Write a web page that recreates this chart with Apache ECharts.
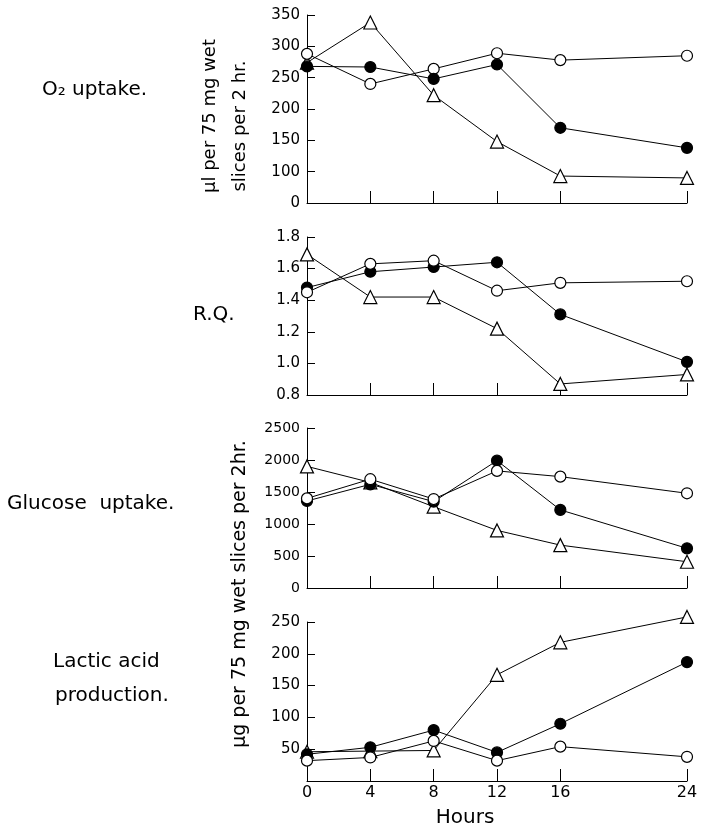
<!DOCTYPE html>
<html>
<head>
<meta charset="utf-8">
<script src="https://cdn.jsdelivr.net/npm/echarts@6/dist/echarts.min.js"></script>
<style>
  html, body { margin: 0; padding: 0; background: #fff; }
  #chart { width: 701px; height: 829px; }
</style>
</head>
<body>
<div id="chart"></div>
<script>
// hours after slicing
var hours = [0, 4, 8, 12, 16, 24];
var hourTicks = [4, 8, 12, 16, 24];

// O2 uptake (axis is broken: baseline labelled 0 sits where 50 would be)
var o2Open = [288, 240, 264, 289, 278, 285];
var o2Filled = [268, 267, 248, 271, 170, 138];
var o2Tri = [274, 338, 222, 148, 93, 90];
var o2TickValues = [50, 100, 150, 200, 250, 300, 350];
var o2TickLabels = ["0", "100", "150", "200", "250", "300", "350"];

// R.Q.
var rqOpen = [1.45, 1.63, 1.65, 1.46, 1.51, 1.52];
var rqFilled = [1.48, 1.58, 1.61, 1.64, 1.31, 1.01];
var rqTri = [1.69, 1.42, 1.42, 1.22, 0.87, 0.93];

// glucose uptake
var gluOpen = [1400, 1700, 1390, 1830, 1740, 1480];
var gluFilled = [1360, 1620, 1350, 1990, 1220, 620];
var gluTri = [1900, 1650, 1270, 900, 670, 410];

// lactic acid production
var lacOpen = [32, 37, 63, 32, 54, 38];
var lacFilled = [42, 53, 80, 45, 90, 187];
var lacTri = [46, 47, 48, 167, 218, 258];

var FONT = "DejaVu Sans";

function pairs(vals) {
  return hours.map(function (h, i) { return [h, vals[i]]; });
}

// one line series, marker style picked by kind
function makeSeries(idx, vals, kind) {
  return {
    type: "line",
    xAxisIndex: idx,
    yAxisIndex: idx,
    data: pairs(vals),
    clip: false, // last lactic triangle sits above the top tick
    lineStyle: { color: "#000", width: 1 },
    symbol: kind === "tri" ? "triangle" : "circle",
    symbolSize: kind === "tri" ? 13 : 11,
    itemStyle: {
      color: kind === "filled" ? "#000" : "#fff",
      borderColor: "#000",
      borderWidth: 1.2
    },
    emphasis: { disabled: true }
  };
}

var grids = [
  { left: 307, top: 15, width: 380, height: 188 },
  { left: 307, top: 237, width: 380, height: 158 },
  { left: 307, top: 428, width: 380, height: 160 },
  { left: 307, top: 622, width: 380, height: 159 }
];

var xAxes = grids.map(function (g, i) {
  return {
    gridIndex: i,
    type: "value",
    min: 0,
    max: 24,
    axisLine: { show: true, lineStyle: { color: "#000", width: 1 } },
    axisTick: {
      show: true,
      inside: true,
      length: 12,
      customValues: hourTicks,
      lineStyle: { color: "#000", width: 1 }
    },
    axisLabel: {
      show: i === 3,
      customValues: hours,
      color: "#000",
      fontFamily: FONT,
      fontSize: 16,
      margin: 4
    },
    splitLine: { show: false }
  };
});

function yAxis(i, min, max, interval, fmt, size) {
  return {
    gridIndex: i,
    type: "value",
    min: min,
    max: max,
    interval: interval,
    axisLine: { show: true, lineStyle: { color: "#000", width: 1 } },
    axisTick: { show: true, inside: true, length: 8, lineStyle: { color: "#000", width: 1 } },
    axisLabel: {
      color: "#000",
      fontFamily: FONT,
      fontSize: size,
      margin: 7,
      formatter: fmt
    },
    splitLine: { show: false }
  };
}

var yAxes = [
  yAxis(0, 50, 350, 50, function (v) {
    var k = o2TickValues.indexOf(v);
    return k >= 0 ? o2TickLabels[k] : "";
  }, 15),
  yAxis(1, 0.8, 1.8, 0.2, function (v) { return v.toFixed(1); }, 15),
  yAxis(2, 0, 2500, 500, function (v) { return String(v); }, 14),
  yAxis(3, 0, 250, 50, function (v) { return v === 0 ? "" : String(v); }, 15)
];

var series = [
  makeSeries(0, o2Tri, "tri"), makeSeries(0, o2Open, "open"), makeSeries(0, o2Filled, "filled"),
  makeSeries(1, rqTri, "tri"), makeSeries(1, rqFilled, "filled"), makeSeries(1, rqOpen, "open"),
  makeSeries(2, gluTri, "tri"), makeSeries(2, gluFilled, "filled"), makeSeries(2, gluOpen, "open"),
  makeSeries(3, lacTri, "tri"), makeSeries(3, lacFilled, "filled"), makeSeries(3, lacOpen, "open")
];

function label(text, x, y, size, align, rot) {
  return {
    type: "text",
    x: x,
    y: y,
    rotation: rot || 0,
    style: {
      text: text,
      fill: "#000",
      font: size + "px " + FONT,
      textAlign: align || "left",
      textVerticalAlign: "middle"
    }
  };
}

var graphics = [
  label("O\u2082 uptake.", 42, 90, 20),
  label("R.Q.", 193, 315, 20),
  label("Glucose  uptake.", 7, 504, 20),
  label("Lactic acid", 53, 662, 20),
  label("production.", 55, 696, 20),
  // rotated axis titles
  label("\u03bcl per 75 mg wet", 210, 116, 18, "center", Math.PI / 2),
  label("slices per 2 hr.", 240, 126, 18, "center", Math.PI / 2),
  label("\u03bcg per 75 mg wet slices per 2hr.", 240, 594, 19, "center", Math.PI / 2),
  label("Hours", 465, 818, 20, "center")
];

var myChart = echarts.init(document.getElementById("chart"), null, { renderer: "canvas" });
myChart.setOption({
  backgroundColor: "#fff",
  animation: false,
  grid: grids,
  xAxis: xAxes,
  yAxis: yAxes,
  series: series,
  graphic: graphics
});
</script>
</body>
</html>
